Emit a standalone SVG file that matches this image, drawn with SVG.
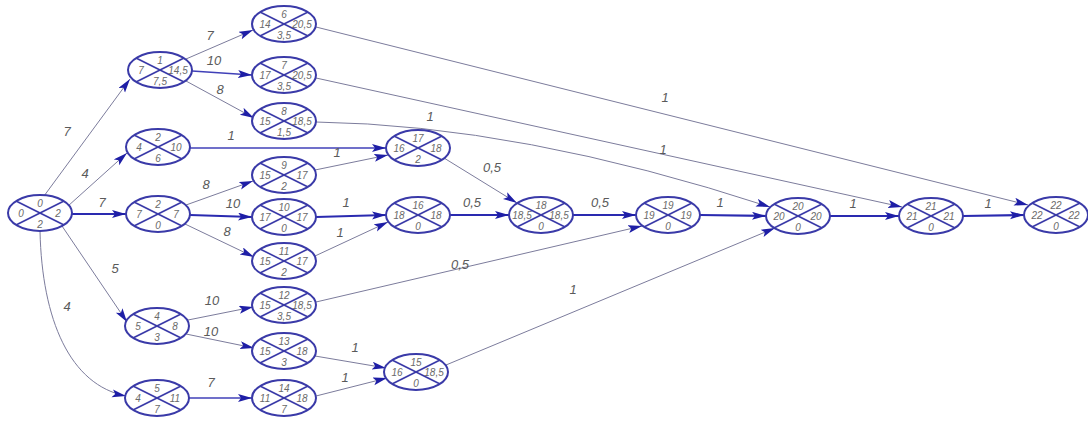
<svg xmlns="http://www.w3.org/2000/svg" xmlns:xlink="http://www.w3.org/1999/xlink" width="1088" height="421" viewBox="0 0 1088 421">
<style>
.bg{fill:#ffffff}
.el{fill:#ffffff;stroke:#3a3aa8;stroke-width:2}
.x{stroke:#3a3aa8;stroke-width:1.6}
.nt{font-family:"Liberation Sans",Arial,sans-serif;font-style:italic;font-size:10px;fill:#6a6a6a;text-anchor:middle}
.e{fill:none;stroke:#7c7c9c;stroke-width:1;marker-end:url(#ar)}
.h{fill:none;stroke:#4040b8;stroke-width:1.4;marker-end:url(#ar)}
.c{fill:none;stroke:#2a2ab0;stroke-width:2.2;marker-end:url(#ar)}
.lb{font-family:"Liberation Sans",Arial,sans-serif;font-style:italic;font-size:13px;fill:#5a5a5a;text-anchor:middle}
</style>
<defs>
<marker id="ar" markerUnits="userSpaceOnUse" markerWidth="16" markerHeight="10" refX="14" refY="4" orient="auto">
<path d="M0,0 L14,4 L0,8 L3,4 z" fill="#1e1ea6"/>
</marker>
<g id="sh">
<ellipse class="el" cx="0" cy="0" rx="32" ry="18"/>
<line class="x" x1="-24" y1="-12" x2="24" y2="12"/>
<line class="x" x1="-24" y1="12" x2="24" y2="-12"/>
</g>
</defs>
<rect class="bg" x="0" y="0" width="1088" height="421"/>
<g id="connectors">
<path class="e" d="M44,196 L130,79"/>
<path class="e" d="M68,206 L127,153"/>
<path class="c" d="M72,214 L126,214"/>
<path class="e" d="M62,226 L127,322"/>
<path class="e" d="M40,231 C42,320 70,385 126,396"/>
<path class="e" d="M186,59 L253,30"/>
<path class="h" d="M192,71 L252,75"/>
<path class="e" d="M186,81 L254,118"/>
<path class="h" d="M190,148 L386,148"/>
<path class="e" d="M186,205 L253,181"/>
<path class="c" d="M190,215 L252,217"/>
<path class="e" d="M185,224 L254,257"/>
<path class="e" d="M315,170 L388,155"/>
<path class="c" d="M316,217 L386,215"/>
<path class="e" d="M315,256 L388,222"/>
<path class="e" d="M444,158 L517,203"/>
<path class="c" d="M450,215 L509,215"/>
<path class="c" d="M573,215 L636,215"/>
<path class="c" d="M700,215 L766,216"/>
<path class="c" d="M830,216 L899,216"/>
<path class="c" d="M963,216 L1024,215"/>
<path class="e" d="M316,27 L1028,205"/>
<path class="e" d="M316,78 L902,207"/>
<path class="e" d="M316,122 Q520,125 770,207"/>
<path class="e" d="M316,302 L642,226"/>
<path class="e" d="M446,365 L775,228"/>
<path class="e" d="M188,320 L253,307"/>
<path class="e" d="M186,334 L254,348"/>
<path class="e" d="M315,356 L386,368"/>
<path class="e" d="M316,396 L387,378"/>
<path class="h" d="M189,398 L252,398"/>
</g>
<g id="edge-labels">
<text class="lb" x="67" y="136">7</text>
<text class="lb" x="85" y="178">4</text>
<text class="lb" x="102" y="207">7</text>
<text class="lb" x="115" y="273">5</text>
<text class="lb" x="67" y="311">4</text>
<text class="lb" x="210" y="40">7</text>
<text class="lb" x="214" y="65">10</text>
<text class="lb" x="220" y="94">8</text>
<text class="lb" x="231" y="140">1</text>
<text class="lb" x="206" y="189">8</text>
<text class="lb" x="233" y="208">10</text>
<text class="lb" x="227" y="236">8</text>
<text class="lb" x="337" y="157">1</text>
<text class="lb" x="346" y="207">1</text>
<text class="lb" x="340" y="237">1</text>
<text class="lb" x="492" y="172">0,5</text>
<text class="lb" x="472" y="207">0,5</text>
<text class="lb" x="600" y="207">0,5</text>
<text class="lb" x="720" y="207">1</text>
<text class="lb" x="853" y="208">1</text>
<text class="lb" x="988" y="208">1</text>
<text class="lb" x="665" y="102">1</text>
<text class="lb" x="663" y="154">1</text>
<text class="lb" x="430" y="121">1</text>
<text class="lb" x="460" y="269">0,5</text>
<text class="lb" x="573" y="294">1</text>
<text class="lb" x="212" y="305">10</text>
<text class="lb" x="211" y="336">10</text>
<text class="lb" x="211" y="387">7</text>
<text class="lb" x="355" y="352">1</text>
<text class="lb" x="345" y="382">1</text>
</g>
<g id="n0" transform="translate(40,213)"><use xlink:href="#sh"/><text class="nt" x="0" y="-6">0</text><text class="nt" x="-19" y="4">0</text><text class="nt" x="18" y="4">2</text><text class="nt" x="0" y="15">2</text></g>
<g id="n1" transform="translate(160,70)"><use xlink:href="#sh"/><text class="nt" x="0" y="-6">1</text><text class="nt" x="-19" y="4">7</text><text class="nt" x="18" y="4">14,5</text><text class="nt" x="0" y="15">7,5</text></g>
<g id="n2" transform="translate(158,147)"><use xlink:href="#sh"/><text class="nt" x="0" y="-6">2</text><text class="nt" x="-19" y="4">4</text><text class="nt" x="18" y="4">10</text><text class="nt" x="0" y="15">6</text></g>
<g id="n3" transform="translate(158,214)"><use xlink:href="#sh"/><text class="nt" x="0" y="-6">2</text><text class="nt" x="-19" y="4">7</text><text class="nt" x="18" y="4">7</text><text class="nt" x="0" y="15">0</text></g>
<g id="n4" transform="translate(157,326)"><use xlink:href="#sh"/><text class="nt" x="0" y="-6">4</text><text class="nt" x="-19" y="4">5</text><text class="nt" x="18" y="4">8</text><text class="nt" x="0" y="15">3</text></g>
<g id="n5" transform="translate(157,398)"><use xlink:href="#sh"/><text class="nt" x="0" y="-6">5</text><text class="nt" x="-19" y="4">4</text><text class="nt" x="18" y="4">11</text><text class="nt" x="0" y="15">7</text></g>
<g id="n6" transform="translate(284,24)"><use xlink:href="#sh"/><text class="nt" x="0" y="-6">6</text><text class="nt" x="-19" y="4">14</text><text class="nt" x="18" y="4">20,5</text><text class="nt" x="0" y="15">3,5</text></g>
<g id="n7" transform="translate(284,75)"><use xlink:href="#sh"/><text class="nt" x="0" y="-6">7</text><text class="nt" x="-19" y="4">17</text><text class="nt" x="18" y="4">20,5</text><text class="nt" x="0" y="15">3,5</text></g>
<g id="n8" transform="translate(284,121)"><use xlink:href="#sh"/><text class="nt" x="0" y="-6">8</text><text class="nt" x="-19" y="4">15</text><text class="nt" x="18" y="4">18,5</text><text class="nt" x="0" y="15">1,5</text></g>
<g id="n9" transform="translate(284,175)"><use xlink:href="#sh"/><text class="nt" x="0" y="-6">9</text><text class="nt" x="-19" y="4">15</text><text class="nt" x="18" y="4">17</text><text class="nt" x="0" y="15">2</text></g>
<g id="n10" transform="translate(284,217)"><use xlink:href="#sh"/><text class="nt" x="0" y="-6">10</text><text class="nt" x="-19" y="4">17</text><text class="nt" x="18" y="4">17</text><text class="nt" x="0" y="15">0</text></g>
<g id="n11" transform="translate(284,261)"><use xlink:href="#sh"/><text class="nt" x="0" y="-6">11</text><text class="nt" x="-19" y="4">15</text><text class="nt" x="18" y="4">17</text><text class="nt" x="0" y="15">2</text></g>
<g id="n12" transform="translate(284,305)"><use xlink:href="#sh"/><text class="nt" x="0" y="-6">12</text><text class="nt" x="-19" y="4">15</text><text class="nt" x="18" y="4">18,5</text><text class="nt" x="0" y="15">3,5</text></g>
<g id="n13" transform="translate(284,351)"><use xlink:href="#sh"/><text class="nt" x="0" y="-6">13</text><text class="nt" x="-19" y="4">15</text><text class="nt" x="18" y="4">18</text><text class="nt" x="0" y="15">3</text></g>
<g id="n14" transform="translate(284,398)"><use xlink:href="#sh"/><text class="nt" x="0" y="-6">14</text><text class="nt" x="-19" y="4">11</text><text class="nt" x="18" y="4">18</text><text class="nt" x="0" y="15">7</text></g>
<g id="n15" transform="translate(416,372)"><use xlink:href="#sh"/><text class="nt" x="0" y="-6">15</text><text class="nt" x="-19" y="4">16</text><text class="nt" x="18" y="4">18,5</text><text class="nt" x="0" y="15">0</text></g>
<g id="n17" transform="translate(418,148)"><use xlink:href="#sh"/><text class="nt" x="0" y="-6">17</text><text class="nt" x="-19" y="4">16</text><text class="nt" x="18" y="4">18</text><text class="nt" x="0" y="15">2</text></g>
<g id="n16" transform="translate(418,215)"><use xlink:href="#sh"/><text class="nt" x="0" y="-6">16</text><text class="nt" x="-19" y="4">18</text><text class="nt" x="18" y="4">18</text><text class="nt" x="0" y="15">0</text></g>
<g id="n18" transform="translate(541,215)"><use xlink:href="#sh"/><text class="nt" x="0" y="-6">18</text><text class="nt" x="-19" y="4">18,5</text><text class="nt" x="18" y="4">18,5</text><text class="nt" x="0" y="15">0</text></g>
<g id="n19" transform="translate(668,215)"><use xlink:href="#sh"/><text class="nt" x="0" y="-6">19</text><text class="nt" x="-19" y="4">19</text><text class="nt" x="18" y="4">19</text><text class="nt" x="0" y="15">0</text></g>
<g id="n20" transform="translate(798,216)"><use xlink:href="#sh"/><text class="nt" x="0" y="-6">20</text><text class="nt" x="-19" y="4">20</text><text class="nt" x="18" y="4">20</text><text class="nt" x="0" y="15">0</text></g>
<g id="n21" transform="translate(931,216)"><use xlink:href="#sh"/><text class="nt" x="0" y="-6">21</text><text class="nt" x="-19" y="4">21</text><text class="nt" x="18" y="4">21</text><text class="nt" x="0" y="15">0</text></g>
<g id="n22" transform="translate(1056,215)"><use xlink:href="#sh"/><text class="nt" x="0" y="-6">22</text><text class="nt" x="-19" y="4">22</text><text class="nt" x="18" y="4">22</text><text class="nt" x="0" y="15">0</text></g>
</svg>
